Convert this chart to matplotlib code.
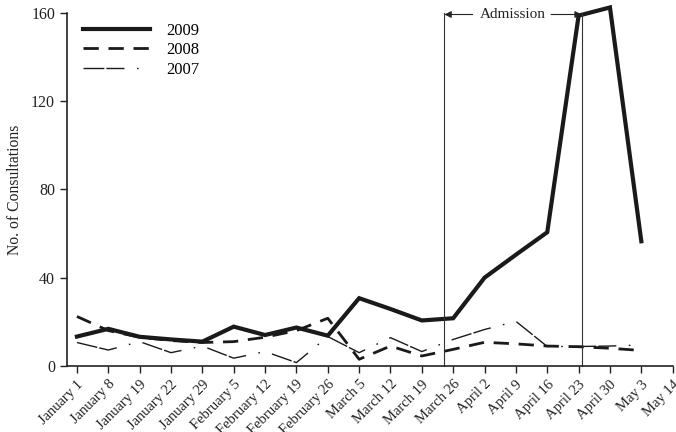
import matplotlib
matplotlib.use("Agg")
import matplotlib.pyplot as plt
import numpy as np

plt.rcParams['font.family'] = ['Liberation Serif', 'DejaVu Serif']

weeks = ["January 1", "January 8", "January 19", "January 22", "January 29",
         "February 5", "February 12", "February 19", "February 26",
         "March 5", "March 12", "March 19", "March 26",
         "April 2", "April 9", "April 16", "April 23", "April 30",
         "May 3", "May 14"]

# values per week (May 14 has no data)
y2009 = [13.3, 16.8, 13.2, 12.0, 11.0, 17.8, 14.0, 17.4, 13.7, 30.7,
         25.8, 20.6, 21.6, 40.0, 50.4, 60.6, 158.8, 162.5, 56.5]
y2008 = [22.4, 16.0, 13.0, 11.5, 10.6, 11.0, 13.0, 16.0, 21.6, 3.0,
         9.0, 4.5, 7.5, 10.7, 10.0, 9.0, 8.7, 8.0, 7.0]
y2007 = [10.6, 7.2, 11.0, 6.0, 9.0, 3.5, 6.5, 1.5, 13.3, 6.0,
         12.8, 6.5, 12.0, 16.5, 20.2, 8.8, 8.8, 9.0, 9.5]

admission_start = 11.72
admission_end = 16.1

fig = plt.figure(figsize=(6.76, 4.32), dpi=100)
ax = fig.add_axes([0.099, 0.153, 0.897, 0.817])

x = np.arange(len(y2009))
ax.plot(x, y2009, color='#1a1a1a', lw=3.0, solid_joinstyle='miter',
        label='2009', clip_on=False)
ax.plot(x, y2008, color='#1a1a1a', lw=2.0, dashes=(5.5, 3.5), label='2008')
ax.plot(x, y2007, color='#1a1a1a', lw=1.0, dashes=(15, 1.5, 13, 9, 1.2, 9),
        label='2007')

# admission period
for xv in (admission_start, admission_end):
    ax.plot([xv, xv], [0, 160], color='#333333', lw=0.8, clip_on=False)
mid = 13.9
ax.text(mid, 159.3, "Admission", ha='center', va='center', fontsize=11,
        color='#222222')
ax.annotate("", xy=(admission_start, 159.3), xytext=(12.62, 159.3),
            arrowprops=dict(arrowstyle='-|>', color='#222222', lw=0.8,
                            mutation_scale=10, shrinkA=0, shrinkB=0))
ax.annotate("", xy=(admission_end, 159.3), xytext=(15.12, 159.3),
            arrowprops=dict(arrowstyle='-|>', color='#222222', lw=0.8,
                            mutation_scale=10, shrinkA=0, shrinkB=0))

ax.set_xlim(-0.32, 19.02)
ax.set_ylim(0, 160)
ax.set_yticks([0, 40, 80, 120, 160])
ax.set_xticks(np.arange(len(weeks)))
ax.set_xticklabels(weeks, rotation=45, ha='right', rotation_mode='anchor',
                   fontsize=10.5, color='#222222')
ax.tick_params(axis='y', labelsize=11.5, length=5, width=1, colors='#222222')
ax.tick_params(axis='x', length=5, width=1, colors='#222222')
for s in ('top', 'right'):
    ax.spines[s].set_visible(False)
for s in ('left', 'bottom'):
    ax.spines[s].set_linewidth(1.2)
    ax.spines[s].set_color('#222222')

ax.set_ylabel("No. of Consultations", fontsize=11.3, color='#222222', labelpad=6)

leg = ax.legend(loc='upper left', bbox_to_anchor=(0.01, 1.0), frameon=False,
                fontsize=12, handlelength=4.0, handletextpad=1.0,
                labelspacing=0.2, borderaxespad=0.2)

fig.savefig("out.png", dpi=100)
